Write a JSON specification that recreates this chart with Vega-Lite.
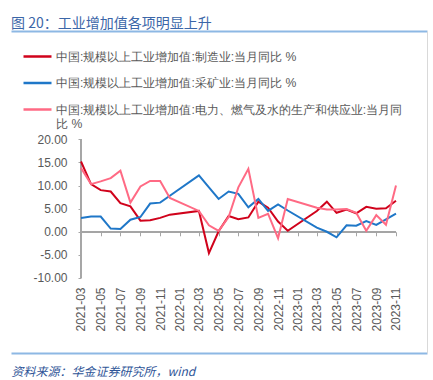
{
  "$schema": "https://vega.github.io/schema/vega-lite/v6.json",
  "autosize": {"type": "none"},
  "padding": {"left": 11, "top": 31, "right": 6, "bottom": 27},
  "width": 416,
  "height": 322,
  "background": "white",
  "config": {"view": {"stroke": null}, "font": "Liberation Sans"},
  "title": {"text": "图 20：工业增加值各项明显上升", "anchor": "start", "frame": "group", "fontSize": 14, "fontWeight": "normal", "color": "#3B66A8", "offset": 0, "font": "Noto Sans CJK SC"},
  "data": {"values": [
      {"date": "2021-03-01", "series": "制造业", "value": 15.2},
      {"date": "2021-04-01", "series": "制造业", "value": 10.3},
      {"date": "2021-05-01", "series": "制造业", "value": 9.0},
      {"date": "2021-06-01", "series": "制造业", "value": 8.7},
      {"date": "2021-07-01", "series": "制造业", "value": 6.2},
      {"date": "2021-08-01", "series": "制造业", "value": 5.5},
      {"date": "2021-09-01", "series": "制造业", "value": 2.4},
      {"date": "2021-10-01", "series": "制造业", "value": 2.5},
      {"date": "2021-11-01", "series": "制造业", "value": 3.0},
      {"date": "2021-12-01", "series": "制造业", "value": 3.7},
      {"date": "2022-03-01", "series": "制造业", "value": 4.5},
      {"date": "2022-04-01", "series": "制造业", "value": -4.6},
      {"date": "2022-05-01", "series": "制造业", "value": 0.1},
      {"date": "2022-06-01", "series": "制造业", "value": 3.4},
      {"date": "2022-07-01", "series": "制造业", "value": 2.7},
      {"date": "2022-08-01", "series": "制造业", "value": 3.1},
      {"date": "2022-09-01", "series": "制造业", "value": 6.5},
      {"date": "2022-10-01", "series": "制造业", "value": 5.2},
      {"date": "2022-11-01", "series": "制造业", "value": 2.2},
      {"date": "2022-12-01", "series": "制造业", "value": 0.2},
      {"date": "2023-03-01", "series": "制造业", "value": 4.5},
      {"date": "2023-04-01", "series": "制造业", "value": 6.5},
      {"date": "2023-05-01", "series": "制造业", "value": 4.1},
      {"date": "2023-06-01", "series": "制造业", "value": 4.8},
      {"date": "2023-07-01", "series": "制造业", "value": 4.0},
      {"date": "2023-08-01", "series": "制造业", "value": 5.4},
      {"date": "2023-09-01", "series": "制造业", "value": 5.0},
      {"date": "2023-10-01", "series": "制造业", "value": 5.1},
      {"date": "2023-11-01", "series": "制造业", "value": 6.7},
      {"date": "2021-03-01", "series": "采矿业", "value": 3.0},
      {"date": "2021-04-01", "series": "采矿业", "value": 3.3},
      {"date": "2021-05-01", "series": "采矿业", "value": 3.3},
      {"date": "2021-06-01", "series": "采矿业", "value": 0.7},
      {"date": "2021-07-01", "series": "采矿业", "value": 0.6},
      {"date": "2021-08-01", "series": "采矿业", "value": 2.6},
      {"date": "2021-09-01", "series": "采矿业", "value": 3.2},
      {"date": "2021-10-01", "series": "采矿业", "value": 6.1},
      {"date": "2021-11-01", "series": "采矿业", "value": 6.3},
      {"date": "2021-12-01", "series": "采矿业", "value": 7.8},
      {"date": "2022-03-01", "series": "采矿业", "value": 12.2},
      {"date": "2022-04-01", "series": "采矿业", "value": 9.6},
      {"date": "2022-05-01", "series": "采矿业", "value": 7.1},
      {"date": "2022-06-01", "series": "采矿业", "value": 8.7},
      {"date": "2022-07-01", "series": "采矿业", "value": 8.2},
      {"date": "2022-08-01", "series": "采矿业", "value": 5.3},
      {"date": "2022-09-01", "series": "采矿业", "value": 7.1},
      {"date": "2022-10-01", "series": "采矿业", "value": 4.5},
      {"date": "2022-11-01", "series": "采矿业", "value": 5.9},
      {"date": "2022-12-01", "series": "采矿业", "value": 4.6},
      {"date": "2023-03-01", "series": "采矿业", "value": 0.9},
      {"date": "2023-04-01", "series": "采矿业", "value": 0.0},
      {"date": "2023-05-01", "series": "采矿业", "value": -1.2},
      {"date": "2023-06-01", "series": "采矿业", "value": 1.4},
      {"date": "2023-07-01", "series": "采矿业", "value": 1.3},
      {"date": "2023-08-01", "series": "采矿业", "value": 2.3},
      {"date": "2023-09-01", "series": "采矿业", "value": 1.5},
      {"date": "2023-10-01", "series": "采矿业", "value": 2.7},
      {"date": "2023-11-01", "series": "采矿业", "value": 3.9},
      {"date": "2021-03-01", "series": "电力、燃气及水的生产和供应业", "value": 13.8},
      {"date": "2021-04-01", "series": "电力、燃气及水的生产和供应业", "value": 10.3},
      {"date": "2021-05-01", "series": "电力、燃气及水的生产和供应业", "value": 10.9},
      {"date": "2021-06-01", "series": "电力、燃气及水的生产和供应业", "value": 11.6},
      {"date": "2021-07-01", "series": "电力、燃气及水的生产和供应业", "value": 13.2},
      {"date": "2021-08-01", "series": "电力、燃气及水的生产和供应业", "value": 6.3},
      {"date": "2021-09-01", "series": "电力、燃气及水的生产和供应业", "value": 9.8},
      {"date": "2021-10-01", "series": "电力、燃气及水的生产和供应业", "value": 11.0},
      {"date": "2021-11-01", "series": "电力、燃气及水的生产和供应业", "value": 11.0},
      {"date": "2021-12-01", "series": "电力、燃气及水的生产和供应业", "value": 7.3},
      {"date": "2022-03-01", "series": "电力、燃气及水的生产和供应业", "value": 4.5},
      {"date": "2022-04-01", "series": "电力、燃气及水的生产和供应业", "value": 1.4},
      {"date": "2022-05-01", "series": "电力、燃气及水的生产和供应业", "value": 0.2},
      {"date": "2022-06-01", "series": "电力、燃气及水的生产和供应业", "value": 3.2},
      {"date": "2022-07-01", "series": "电力、燃气及水的生产和供应业", "value": 9.6},
      {"date": "2022-08-01", "series": "电力、燃气及水的生产和供应业", "value": 13.6},
      {"date": "2022-09-01", "series": "电力、燃气及水的生产和供应业", "value": 3.0},
      {"date": "2022-10-01", "series": "电力、燃气及水的生产和供应业", "value": 3.9},
      {"date": "2022-11-01", "series": "电力、燃气及水的生产和供应业", "value": -1.4},
      {"date": "2022-12-01", "series": "电力、燃气及水的生产和供应业", "value": 7.1},
      {"date": "2023-03-01", "series": "电力、燃气及水的生产和供应业", "value": 5.2},
      {"date": "2023-04-01", "series": "电力、燃气及水的生产和供应业", "value": 4.8},
      {"date": "2023-05-01", "series": "电力、燃气及水的生产和供应业", "value": 4.8},
      {"date": "2023-06-01", "series": "电力、燃气及水的生产和供应业", "value": 4.9},
      {"date": "2023-07-01", "series": "电力、燃气及水的生产和供应业", "value": 4.1},
      {"date": "2023-08-01", "series": "电力、燃气及水的生产和供应业", "value": 0.2},
      {"date": "2023-09-01", "series": "电力、燃气及水的生产和供应业", "value": 3.6},
      {"date": "2023-10-01", "series": "电力、燃气及水的生产和供应业", "value": 1.5},
      {"date": "2023-11-01", "series": "电力、燃气及水的生产和供应业", "value": 10.0}
  ]},
  "layer": [
    {
      "mark": {"type": "rule", "color": "#A6A6A6", "strokeWidth": 1},
      "encoding": {
        "x": {"datum": {"year": 2021, "month": 3, "date": 1, "utc": true}, "type": "temporal", "axis": null},
        "x2": {"datum": {"year": 2023, "month": 11, "date": 1, "utc": true}},
        "y": {"datum": 0, "type": "quantitative", "axis": null}
      }
    },
    {
      "mark": {"type": "rule", "color": "#A6A6A6", "strokeWidth": 1},
      "encoding": {
        "x": {"datum": {"year": 2021, "month": 3, "date": 1, "utc": true}, "type": "temporal", "axis": null},
        "y": {"datum": -10, "type": "quantitative", "axis": null},
        "y2": {"datum": 20}
      }
    },
    {
      "mark": {"type": "line", "strokeWidth": 2},
      "encoding": {
        "x": {
          "field": "date", "type": "temporal",
          "scale": {"type": "utc", "domain": [{"year": 2020, "month": 7, "date": 27, "hours": 8, "utc": true}, {"year": 2024, "month": 2, "date": 5, "utc": true}]},
          "axis": {"orient": "bottom", "offset": -75, "domain": false, "ticks": false, "grid": false, "title": null, "labelAngle": -90, "labelPadding": 9, "labelFontSize": 12, "labelColor": "#595959", "format": "%Y-%m", "labelFlush": false, "labelOverlap": false,
            "values": [
              {"year": 2021, "month": 3, "date": 1, "utc": true}, {"year": 2021, "month": 5, "date": 1, "utc": true}, {"year": 2021, "month": 7, "date": 1, "utc": true}, {"year": 2021, "month": 9, "date": 1, "utc": true}, {"year": 2021, "month": 11, "date": 1, "utc": true},
              {"year": 2022, "month": 1, "date": 1, "utc": true}, {"year": 2022, "month": 3, "date": 1, "utc": true}, {"year": 2022, "month": 5, "date": 1, "utc": true}, {"year": 2022, "month": 7, "date": 1, "utc": true}, {"year": 2022, "month": 9, "date": 1, "utc": true}, {"year": 2022, "month": 11, "date": 1, "utc": true},
              {"year": 2023, "month": 1, "date": 1, "utc": true}, {"year": 2023, "month": 3, "date": 1, "utc": true}, {"year": 2023, "month": 5, "date": 1, "utc": true}, {"year": 2023, "month": 7, "date": 1, "utc": true}, {"year": 2023, "month": 9, "date": 1, "utc": true}, {"year": 2023, "month": 11, "date": 1, "utc": true}
            ]}
        },
        "y": {
          "field": "value", "type": "quantitative",
          "scale": {"domain": [-26.222, 43.424], "nice": false, "zero": false},
          "axis": {"orient": "left", "offset": -70, "values": [-10, -5, 0, 5, 10, 15, 20], "labelExpr": "replace(format(datum.value, '.2f'), '\u2212', '-')", "grid": false, "title": null, "domain": false, "tickColor": "#A6A6A6", "tickSize": 3, "labelPadding": 11, "labelFontSize": 12, "labelColor": "#595959"}
        },
        "color": {
          "field": "series", "type": "nominal",
          "scale": {"domain": ["制造业", "采矿业", "电力、燃气及水的生产和供应业"], "range": ["#D0021B", "#1F77C8", "#FF6A84"]},
          "legend": {
            "orient": "none", "legendX": 11, "legendY": 10, "title": null,
            "symbolType": "stroke", "symbolStrokeWidth": 2.5, "symbolSize": 784,
            "labelFontSize": 12.2, "labelColor": "#595959", "labelLimit": 420, "labelOffset": 3, "rowPadding": 4.5,
            "labelExpr": "datum.label == '电力、燃气及水的生产和供应业' ? ['中国:规模以上工业增加值:电力、燃气及水的生产和供应业:当月同', '比 %'] : '中国:规模以上工业增加值:' + datum.label + ':当月同比 %'"
          }
        }
      }
    },
    {
      "mark": {"type": "line", "opacity": 0},
      "encoding": {
        "x": {
          "field": "date", "type": "temporal",
          "axis": {"orient": "bottom", "offset": -121.2, "labels": false, "ticks": true, "tickSize": 4, "domain": false, "tickColor": "#A6A6A6", "grid": false, "title": null,
            "values": [
              {"year": 2021, "month": 3, "date": 1, "utc": true}, {"year": 2021, "month": 5, "date": 1, "utc": true}, {"year": 2021, "month": 7, "date": 1, "utc": true}, {"year": 2021, "month": 9, "date": 1, "utc": true}, {"year": 2021, "month": 11, "date": 1, "utc": true},
              {"year": 2022, "month": 1, "date": 1, "utc": true}, {"year": 2022, "month": 3, "date": 1, "utc": true}, {"year": 2022, "month": 5, "date": 1, "utc": true}, {"year": 2022, "month": 7, "date": 1, "utc": true}, {"year": 2022, "month": 9, "date": 1, "utc": true}, {"year": 2022, "month": 11, "date": 1, "utc": true},
              {"year": 2023, "month": 1, "date": 1, "utc": true}, {"year": 2023, "month": 3, "date": 1, "utc": true}, {"year": 2023, "month": 5, "date": 1, "utc": true}, {"year": 2023, "month": 7, "date": 1, "utc": true}, {"year": 2023, "month": 9, "date": 1, "utc": true}, {"year": 2023, "month": 11, "date": 1, "utc": true}
            ]}
        },
        "y": {"field": "value", "type": "quantitative", "axis": {"orient": "right", "domain": true, "domainColor": "#D9D9D9", "ticks": false, "labels": false, "grid": false, "title": null}},
        "detail": {"field": "series"}
      }
    },
    {
      "mark": {"type": "line", "opacity": 0},
      "encoding": {
        "x": {
          "field": "date", "type": "temporal",
          "axis": {"orient": "bottom", "offset": 0, "labels": false, "ticks": false, "domain": true, "domainColor": "#8DB8E4", "domainWidth": 2, "grid": false,
            "title": "资料来源：华金证券研究所，wind", "titleAnchor": "start", "titleAlign": "left", "titleFontStyle": "italic", "titleFontWeight": "normal", "titleColor": "#2F5597", "titleFontSize": 12, "titlePadding": 13, "titleFont": "Noto Sans CJK SC"}
        },
        "y": {"field": "value", "type": "quantitative", "axis": null},
        "detail": {"field": "series"}
      }
    },
    {
      "mark": {"type": "line", "opacity": 0},
      "encoding": {
        "x": {
          "field": "date", "type": "temporal",
          "axis": {"orient": "top", "offset": 0, "labels": false, "ticks": false, "domain": true, "domainColor": "#8DB8E4", "domainWidth": 2, "grid": false, "title": null}
        },
        "y": {"field": "value", "type": "quantitative", "axis": null},
        "detail": {"field": "series"}
      }
    }
  ],
  "resolve": {"axis": {"x": "independent", "y": "independent"}}
}
